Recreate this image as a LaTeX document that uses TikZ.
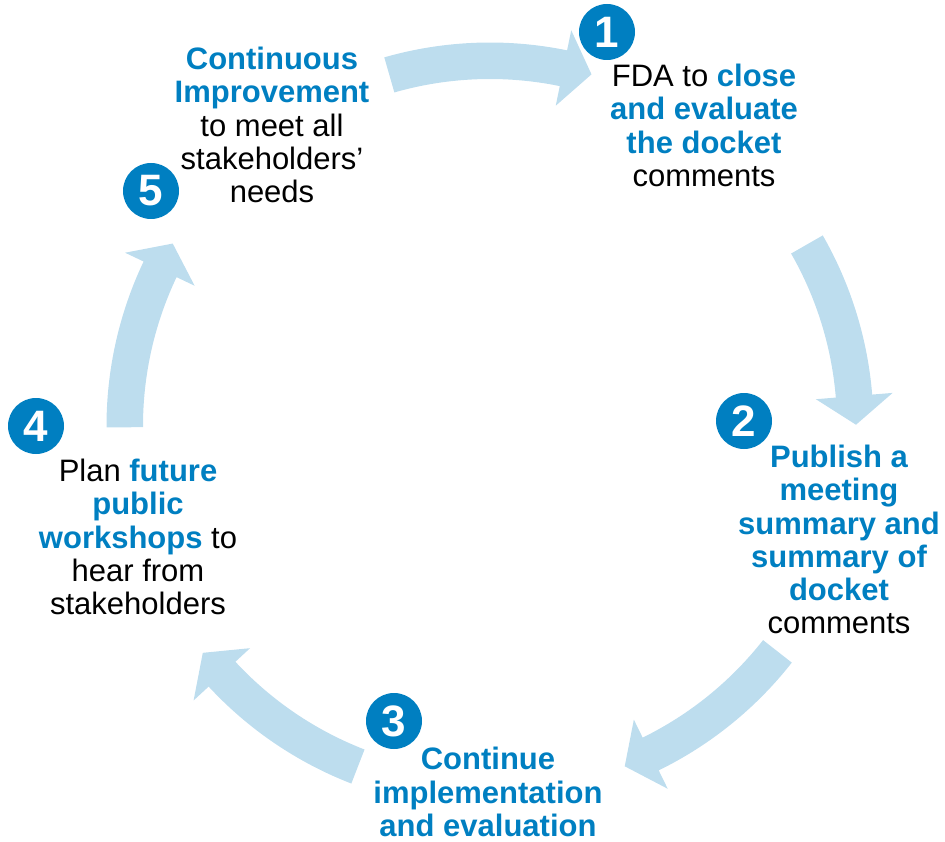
\documentclass[tikz,border=0pt]{standalone}
\usepackage{fontspec}
\setmainfont{Liberation Sans}

\definecolor{cycleblue}{RGB}{0,127,193}
\definecolor{arrowblue}{RGB}{189,221,238}
\newcommand{\keyword}[1]{\textbf{\textcolor{cycleblue}{#1}}}

\tikzset{every picture/.style={line width=0.5pt}}
\tikzset{
  steptext/.style={align=center,inner sep=0.75pt,font=\fontsize{31}{33.2}\selectfont},
  stepnum/.style={circle,fill=cycleblue,text=white,inner sep=0pt,minimum size=56pt,font=\fontsize{44}{44}\selectfont\bfseries},
  cyclearrow/.style={fill=arrowblue,draw=none}
}

\begin{document}
\begin{tikzpicture}[x=1pt,y=1pt,yscale=-1,xscale=1]
\useasboundingbox (0,0) rectangle (945,842);

\begin{scope}[shift={(490,426)}]
%Shape: Arc Arrow 5 -> 1
\fill[cyclearrow] (-106:383.5) arc[start angle=-106,end angle=-78.4,radius=383.5] -- (-78.4:404) -- (-73.9:366) -- (-78.4:327) -- (-78.4:347) arc[start angle=-78.4,end angle=-106,radius=347] -- cycle;
%Shape: Arc Arrow 1 -> 2
\fill[cyclearrow] (-29.8:383.5) arc[start angle=-29.8,end angle=-4.7,radius=383.5] -- (-4.7:404) -- (-0.2:366) -- (-4.7:327) -- (-4.7:347) arc[start angle=-4.7,end angle=-29.8,radius=347] -- cycle;
%Shape: Arc Arrow 2 -> 3
\fill[cyclearrow] (38.1:383.5) arc[start angle=38.1,end angle=63.9,radius=383.5] -- (63.9:404) -- (68.4:366) -- (63.9:327) -- (63.9:347) arc[start angle=63.9,end angle=38.1,radius=347] -- cycle;
%Shape: Arc Arrow 3 -> 4
\fill[cyclearrow] (111.2:383.5) arc[start angle=111.2,end angle=137.2,radius=383.5] -- (137.2:404) -- (141.7:366) -- (137.2:327) -- (137.2:347) arc[start angle=137.2,end angle=111.2,radius=347] -- cycle;
%Shape: Arc Arrow 4 -> 5
\fill[cyclearrow] (-180.2:383.5) arc[start angle=-180.2,end angle=-154.6,radius=383.5] -- (-154.6:404) -- (-150.1:366) -- (-154.6:327) -- (-154.6:347) arc[start angle=-154.6,end angle=-180.2,radius=347] -- cycle;
\end{scope}

% Text Node
\draw (704,125.5) node (step1) [steptext] {FDA to \keyword{close}\\\keyword{and evaluate}\\\keyword{the docket}\\comments};
% Text Node
\draw (839,539.7) node (step2) [steptext] {\keyword{Publish a}\\\keyword{meeting}\\\keyword{summary and}\\\keyword{summary of}\\\keyword{docket}\\comments};
% Text Node
\draw (488,792) node (step3) [steptext] {\keyword{Continue}\\\keyword{implementation}\\\keyword{and evaluation}};
% Text Node
\draw (138,537.1) node (step4) [steptext] {Plan \keyword{future}\\\keyword{public}\\\keyword{workshops} to\\hear from\\stakeholders};
% Text Node
\draw (272,125.1) node (step5) [steptext] {\keyword{Continuous}\\\keyword{Improvement}\\to meet all\\stakeholders’\\needs};

%Shape: Circle
\draw (607,32) node (num1) [stepnum] {1};
%Shape: Circle
\draw (744,421) node (num2) [stepnum] {2};
%Shape: Circle
\draw (394,721) node (num3) [stepnum] {3};
%Shape: Circle
\draw (36,426) node (num4) [stepnum] {4};
%Shape: Circle
\draw (151,191) node (num5) [stepnum] {5};

\end{tikzpicture}
\end{document}
